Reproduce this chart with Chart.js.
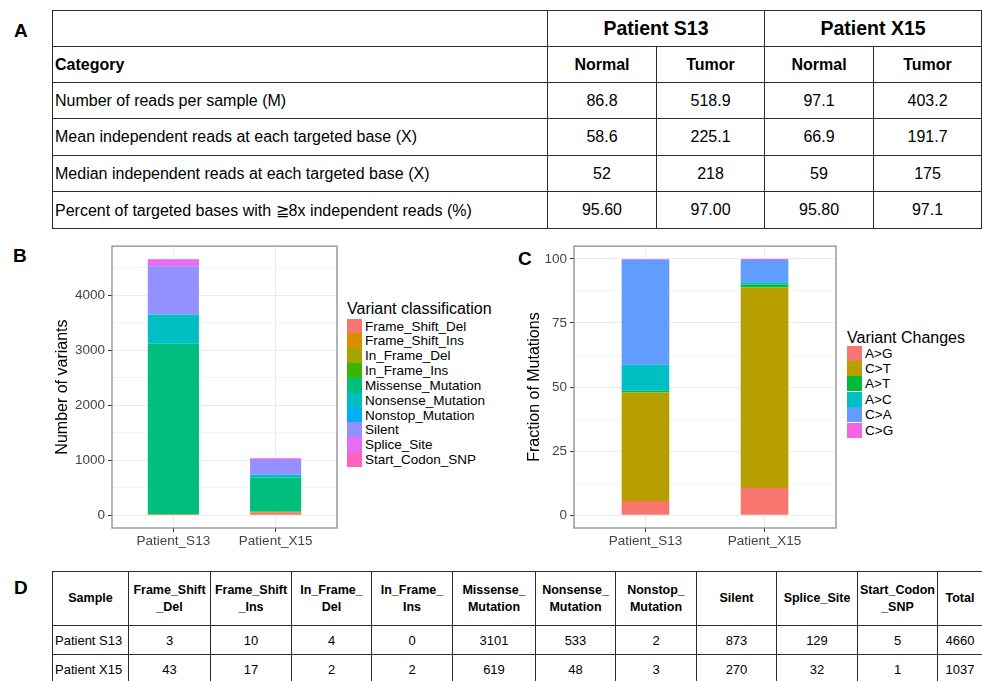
<!DOCTYPE html>
<html>
<head>
<meta charset="utf-8">
<script src="https://cdn.jsdelivr.net/npm/chart.js@4.4.1/dist/chart.umd.min.js"></script>
<style>
html, body { margin: 0; padding: 0; background: #fff; }
body { width: 982px; height: 681px; position: relative; overflow: hidden;
  font-family: "Liberation Sans", Arial, sans-serif; color: #000; }
.plab { position: absolute; font: bold 19px "Liberation Sans", Arial, sans-serif; line-height: 22px; }
table { position: absolute; border-collapse: collapse; table-layout: fixed; }
td { border: 1px solid #2b2b2b; padding: 0; text-align: center; white-space: nowrap; overflow: hidden; }
#tabA { left: 52px; top: 10px; width: 929px; font-size: 16px; }
#tabA td.first { text-align: left; padding-left: 2px; }
#tabA .b { font-weight: bold; }
#tabA .big { font-size: 19.5px; }
#tabD { left: 52px; top: 571px; width: 930px; font-size: 13px; line-height: 17px; }
#tabD .hd td { font-weight: bold; font-size: 12.5px; }
#tabD td.first { text-align: left; padding-left: 2px; }
canvas { position: absolute; }
.leg { position: absolute; }
.leg .ttl { position: absolute; left: 0; font-size: 16px; line-height: 18px; white-space: nowrap; }
.leg .row { position: absolute; left: 0; height: 15px; white-space: nowrap; font-size: 13.5px; line-height: 15px; }
.leg .sw { position: absolute; left: 0; top: 0; width: 15px; height: 15px; }
.leg .tx { position: absolute; left: 18px; top: 0; }
</style>
</head>
<body>
<div class="plab" style="left:14px;top:20px">A</div>
<div class="plab" style="left:13px;top:245px">B</div>
<div class="plab" style="left:518px;top:248px">C</div>
<div class="plab" style="left:14px;top:577px">D</div>

<table id="tabA"></table>
<canvas id="chartB" width="345" height="320" style="left:0;top:235px"></canvas>
<div class="leg" id="legB" style="left:347px;top:0"></div>
<canvas id="chartC" width="345" height="320" style="left:500px;top:235px"></canvas>
<div class="leg" id="legC" style="left:847px;top:0"></div>
<table id="tabD"></table>

<script>
'use strict';

// Table A: sequencing summary
const patientsA = ['Patient S13', 'Patient X15'];
const tissuesA = ['Normal', 'Tumor', 'Normal', 'Tumor'];
const metricsA = [
  'Number of reads per sample (M)',
  'Mean independent reads at each targeted base (X)',
  'Median independent reads at each targeted base (X)',
  'Percent of targeted bases with \u22678x independent reads (%)'
];
const readsM = ['86.8', '518.9', '97.1', '403.2'];
const meanX = ['58.6', '225.1', '66.9', '191.7'];
const medianX = ['52', '218', '59', '175'];
const pct8x = ['95.60', '97.00', '95.80', '97.1'];

// Panel B / table D: variant counts
const samples = ['Patient_S13', 'Patient_X15'];
const sampleNames = ['Patient S13', 'Patient X15'];
const classes = ['Frame_Shift_Del', 'Frame_Shift_Ins', 'In_Frame_Del', 'In_Frame_Ins', 'Missense_Mutation',
  'Nonsense_Mutation', 'Nonstop_Mutation', 'Silent', 'Splice_Site', 'Start_Codon_SNP'];
const classHeaders = ['Frame_Shift<br>_Del', 'Frame_Shift<br>_Ins', 'In_Frame_<br>Del', 'In_Frame_<br>Ins',
  'Missense_<br>Mutation', 'Nonsense_<br>Mutation', 'Nonstop_<br>Mutation', 'Silent', 'Splice_Site', 'Start_Codon<br>_SNP'];
const classColors = ['#F8766D', '#D89000', '#A3A500', '#39B600', '#00BF7D', '#00BFC4', '#00B0F6', '#9590FF', '#E76BF3', '#FF62BC'];
const countsS13 = [3, 10, 4, 0, 3101, 533, 2, 873, 129, 5];
const countsX15 = [43, 17, 2, 2, 619, 48, 3, 270, 32, 1];
const totals = [4660, 1037];
const countTicks = [0, 500, 1000, 1500, 2000, 2500, 3000, 3500, 4000, 4500];

// Panel C: fraction of base changes (%)
const changes = ['A>G', 'C>T', 'A>T', 'A>C', 'C>A', 'C>G'];
const changeColors = ['#F8766D', '#B79F00', '#00BA38', '#00BFC4', '#619CFF', '#F564E3'];
const fracS13 = [5.5, 42.4, 0.7, 10.1, 41.0, 0.3];
const fracX15 = [10.6, 78.2, 1.2, 0.9, 8.7, 0.4];
const fracTicks = [0, 12.5, 25, 37.5, 50, 62.5, 75, 87.5, 100];

// ---- tables ----
const rowH = [36, 36, 36, 37, 36, 37];
let h = `<colgroup><col style="width:495px"><col style="width:109px"><col style="width:108px"><col style="width:109px"><col style="width:108px"></colgroup>`;
h += `<tr style="height:${rowH[0]}px"><td></td>` + patientsA.map(p => `<td colspan="2" class="b big">${p}</td>`).join('') + '</tr>';
h += `<tr style="height:${rowH[1]}px"><td class="first b">Category</td>` + tissuesA.map(t => `<td class="b">${t}</td>`).join('') + '</tr>';
[readsM, meanX, medianX, pct8x].forEach((vals, i) => {
  h += `<tr style="height:${rowH[i + 2]}px"><td class="first">${metricsA[i]}</td>` + vals.map(v => `<td>${v}</td>`).join('') + '</tr>';
});
document.getElementById('tabA').innerHTML = h;

const colD = [76, 82, 81, 80, 81, 83, 80, 81, 80, 81, 80, 45];
let d = '<colgroup>' + colD.map(w => `<col style="width:${w}px">`).join('') + '</colgroup>';
d += '<tr class="hd" style="height:54px"><td>Sample</td>' + classHeaders.map(c => `<td>${c}</td>`).join('') + '<td>Total</td></tr>';
[countsS13, countsX15].forEach((vals, i) => {
  d += `<tr style="height:29px"><td class="first">${sampleNames[i]}</td>` + vals.map(v => `<td>${v}</td>`).join('') + `<td>${totals[i]}</td></tr>`;
});
document.getElementById('tabD').innerHTML = d;

// ---- legends ----
function buildLegend(id, title, titleTop, firstTop, step, names, colors) {
  let s = `<div class="ttl" style="top:${titleTop}px">${title}</div>`;
  names.forEach((n, i) => {
    s += `<div class="row" style="top:${(firstTop + i * step).toFixed(1)}px"><div class="sw" style="background:${colors[i]}"></div><div class="tx">${n.replace(/>/g, '&gt;')}</div></div>`;
  });
  document.getElementById(id).innerHTML = s;
}
buildLegend('legB', 'Variant classification', 300, 318.5, 14.85, classes, classColors);
buildLegend('legC', 'Variant Changes', 329, 345.5, 15.4, changes, changeColors);

// ---- charts ----
const FONT = { family: "'Liberation Sans', Arial, sans-serif", size: 13.5 };
const frame = {
  id: 'frame',
  afterDraw(c) {
    const a = c.chartArea, x = c.ctx;
    x.save(); x.strokeStyle = '#8c8c8c'; x.lineWidth = 1.3;
    x.strokeRect(a.left, a.top, a.right - a.left, a.bottom - a.top);
    x.restore();
  }
};

function stackChart(id, names, colors, rows, yCfg) {
  return new Chart(document.getElementById(id).getContext('2d'), {
    type: 'bar',
    data: {
      datasets: names.map((n, i) => ({
        label: n, backgroundColor: colors[i], borderWidth: 0, stack: 'all',
        categoryPercentage: yCfg.barW, barPercentage: 1,
        data: rows.map((r, j) => ({ x: j + 1, y: r[i] }))
      }))
    },
    options: {
      responsive: false, animation: false, devicePixelRatio: 1,
      layout: { padding: yCfg.pad },
      plugins: { legend: { display: false }, tooltip: { enabled: false } },
      scales: {
        x: {
          type: 'linear', offset: false, min: 0.4, max: 2.6,
          afterBuildTicks: s => { s.ticks = samples.map((_, i) => ({ value: i + 1 })); },
          afterFit: s => { s.height = 27; },
          border: { display: false },
          grid: { offset: false, color: '#ebebeb', lineWidth: 1, tickLength: 4, tickColor: '#333' },
          ticks: { color: '#444', font: FONT, padding: 1, maxRotation: 0, autoSkip: false, callback: v => samples[v - 1] || '' }
        },
        y: {
          stacked: true, min: yCfg.min, max: yCfg.max,
          afterBuildTicks: s => { s.ticks = yCfg.ticks.map(v => ({ value: v })); },
          afterFit: s => { s.width = yCfg.width; },
          border: { display: false },
          grid: {
            color: c => (c.tick && c.tick.value % yCfg.major === 0) ? '#ebebeb' : '#f4f4f4',
            lineWidth: 1, tickLength: 4,
            tickColor: c => (c.tick && c.tick.value % yCfg.major === 0) ? '#333' : 'rgba(0,0,0,0)'
          },
          ticks: { color: '#444', font: FONT, padding: 3, callback: v => v % yCfg.major === 0 ? v : '' },
          title: { display: true, text: yCfg.title, color: '#000', font: { family: FONT.family, size: 16 }, padding: { top: yCfg.titlePad, bottom: 0 } }
        }
      }
    },
    plugins: [frame]
  });
}

stackChart('chartB', classes, classColors, [countsS13, countsX15], {
  min: -233, max: 4893, ticks: countTicks, major: 1000, width: 112, barW: 0.5,
  title: 'Number of variants', titlePad: 53, pad: { top: 5, right: 8, left: 0, bottom: 0 }
});
stackChart('chartC', changes, changeColors, [fracS13, fracX15], {
  min: -5, max: 105, ticks: fracTicks, major: 25, width: 74, barW: 0.4,
  title: 'Fraction of Mutations', titlePad: 25, pad: { top: 6, right: 9, left: 0, bottom: 0 }
});
</script>
</body>
</html>
